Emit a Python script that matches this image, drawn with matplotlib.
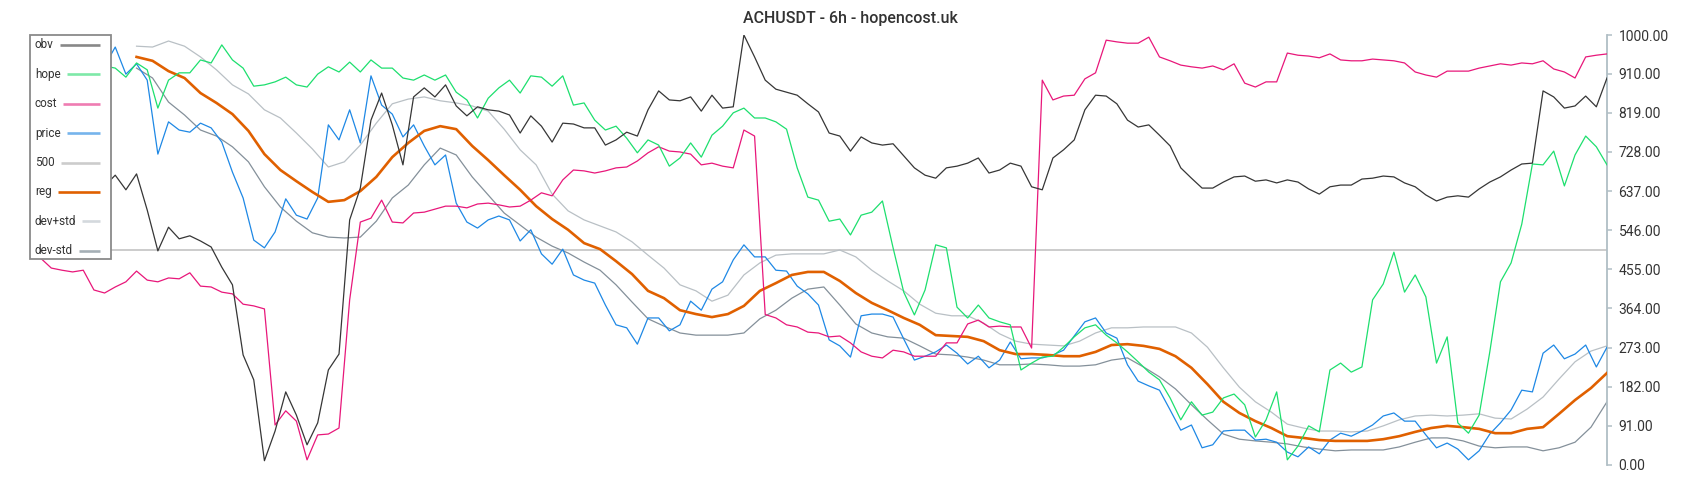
import numpy as np
import matplotlib
matplotlib.use("Agg")
import matplotlib.pyplot as plt
from matplotlib.lines import Line2D
from matplotlib.patches import Rectangle
from matplotlib.transforms import Affine2D

plt.rcParams['font.family'] = ['Roboto', 'DejaVu Sans']

title = "ACHUSDT - 6h - hopencost.uk"
step_fast = 2
step_slow = 3
slow_start = 20

obv = [651, 667, 635, 656, 686, 644, 663, 649, 674, 640,
       677, 593, 498, 553, 526, 533, 521, 507, 460, 419,
       256, 198, 10, 79, 170, 116, 47, 98, 221, 258,
       570, 644, 802, 865, 791, 698, 856, 877, 856, 884,
       835, 812, 833, 826, 823, 814, 772, 812, 788, 751,
       795, 793, 784, 784, 744, 756, 774, 765, 826, 870,
       849, 847, 856, 823, 860, 830, 833, 1000, 949, 895,
       874, 867, 860, 840, 821, 772, 765, 730, 763, 749,
       744, 747, 719, 691, 674, 667, 691, 695, 702, 714,
       679, 686, 702, 695, 647, 640, 714, 733, 756, 826,
       860, 858, 840, 802, 786, 791, 767, 742, 691, 667,
       644, 644, 658, 670, 672, 660, 663, 656, 663, 658,
       642, 630, 647, 651, 651, 665, 667, 672, 670, 656,
       647, 628, 614, 623, 626, 623, 642, 658, 670, 686,
       700, 702, 870, 856, 830, 835, 858, 833, 900]

hope = [914, 923, 909, 919, 928, 914, 919, 928, 923, 902,
        935, 919, 830, 895, 912, 912, 942, 935, 977, 942,
        923, 881, 884, 891, 902, 884, 879, 909, 926, 914,
        937, 914, 942, 923, 923, 900, 895, 907, 895, 907,
        867, 849, 807, 853, 877, 895, 865, 905, 902, 881,
        905, 837, 842, 802, 779, 788, 760, 726, 756, 744,
        695, 714, 749, 716, 767, 788, 819, 830, 807, 807,
        798, 781, 691, 623, 616, 567, 572, 535, 581, 588,
        614, 505, 402, 349, 407, 512, 505, 367, 342, 372,
        342, 333, 326, 221, 237, 251, 253, 274, 298, 319,
        326, 302, 284, 263, 240, 216, 198, 156, 105, 147,
        116, 123, 156, 165, 140, 65, 105, 170, 12, 44,
        91, 77, 221, 237, 216, 228, 384, 421, 495, 402,
        442, 391, 237, 298, 98, 74, 116, 263, 426, 470,
        560, 700, 698, 730, 649, 721, 765, 740, 698]

cost = [486, 481, 458, 453, 449, 453, 407, 400, 414, 426,
        451, 430, 426, 435, 433, 447, 416, 414, 402, 398,
        374, 370, 363, 93, 126, 102, 12, 70, 72, 86,
        384, 565, 574, 616, 565, 563, 586, 588, 595, 602,
        602, 598, 607, 609, 605, 600, 602, 616, 633, 626,
        663, 686, 684, 679, 684, 691, 693, 707, 726, 740,
        730, 728, 723, 698, 702, 695, 691, 779, 765, 350,
        342, 326, 321, 309, 307, 298, 300, 284, 263, 253,
        249, 267, 263, 253, 253, 253, 284, 284, 328, 337,
        321, 323, 321, 321, 272, 895, 849, 858, 860, 898,
        912, 988, 984, 981, 981, 995, 949, 940, 930, 926,
        923, 928, 919, 933, 888, 879, 891, 891, 958, 953,
        951, 947, 956, 942, 940, 940, 944, 942, 940, 935,
        914, 907, 902, 916, 916, 916, 923, 928, 933, 930,
        935, 933, 940, 921, 914, 900, 949, 953, 956]

price = [937, 923, 947, 928, 942, 919, 937, 928, 972, 909,
         933, 895, 723, 798, 779, 774, 795, 784, 751, 681,
         621, 523, 505, 542, 619, 581, 572, 621, 791, 756,
         826, 749, 905, 837, 816, 763, 791, 742, 698, 721,
         609, 565, 551, 570, 579, 570, 521, 547, 491, 467,
         502, 442, 430, 423, 372, 326, 319, 281, 342, 342,
         312, 326, 381, 360, 409, 426, 477, 512, 484, 484,
         453, 451, 416, 398, 372, 291, 277, 251, 347, 351,
         351, 344, 293, 244, 253, 263, 279, 260, 235, 253,
         226, 244, 286, 247, 249, 249, 256, 267, 300, 333,
         342, 307, 295, 233, 195, 184, 174, 128, 81, 93,
         40, 47, 79, 81, 81, 58, 60, 53, 30, 19,
         42, 26, 58, 74, 67, 79, 93, 114, 121, 102,
         102, 70, 40, 51, 37, 12, 33, 72, 98, 128,
         174, 170, 260, 279, 247, 258, 279, 228, 274]

reg = [949, 940, 916, 900, 865, 842, 816, 777, 723, 686,
       660, 635, 612, 616, 637, 670, 716, 749, 777, 788,
       781, 742, 709, 674, 640, 602, 572, 547, 516, 502,
       474, 444, 405, 388, 360, 351, 344, 351, 370, 405,
       423, 442, 449, 449, 428, 400, 377, 360, 342, 326,
       302, 300, 298, 288, 267, 258, 258, 256, 253, 253,
       263, 279, 281, 277, 270, 253, 226, 188, 147, 121,
       102, 86, 67, 63, 58, 56, 56, 56, 60, 67,
       77, 86, 91, 88, 84, 74, 74, 84, 88, 119,
       151, 179, 214]

dev_plus_std = [974, 972, 986, 974, 949, 919, 884, 863, 826, 807,
                772, 735, 693, 705, 744, 795, 840, 851, 856, 847,
                842, 835, 823, 781, 733, 698, 630, 591, 570, 556,
                542, 519, 488, 458, 419, 405, 381, 395, 442, 470,
                488, 491, 491, 491, 500, 484, 453, 428, 405, 374,
                353, 347, 347, 330, 305, 288, 281, 279, 277, 288,
                307, 319, 319, 321, 321, 321, 307, 274, 226, 181,
                147, 123, 95, 86, 79, 79, 77, 79, 91, 105,
                114, 116, 114, 116, 119, 109, 107, 130, 158, 200,
                240, 265, 277]

dev_minus_std = [923, 900, 844, 814, 779, 765, 740, 705, 647, 600,
                 567, 540, 530, 528, 530, 567, 621, 651, 698, 737,
                 721, 670, 628, 586, 558, 530, 509, 493, 472, 453,
                 419, 379, 340, 323, 307, 302, 302, 302, 307, 340,
                 360, 388, 409, 414, 372, 328, 307, 298, 295, 277,
                 258, 256, 251, 244, 233, 233, 235, 233, 230, 230,
                 233, 244, 249, 228, 205, 177, 140, 105, 72, 60,
                 56, 53, 49, 42, 37, 33, 35, 35, 35, 42,
                 53, 63, 63, 56, 44, 40, 42, 42, 33, 40,
                 53, 88, 147]

level_500 = 500
y_ticks = [0, 91, 182, 273, 364, 455, 546, 637, 728, 819, 910, 1000]
legend_labels = ["obv", "hope", "cost", "price", "500", "reg", "dev+std", "dev-std"]

x_fast = np.arange(len(obv)) * step_fast
x_slow = slow_start + np.arange(len(reg)) * step_slow

W, H = 1700, 500
fig = plt.figure(figsize=(W / 100, H / 100), dpi=100)
fig.patch.set_facecolor('white')
ax = fig.add_axes([30 / W, 35 / H, 1577 / W, 430 / H])

C_OBV = '#363636'
C_HOPE = '#1ddf6e'
C_COST = '#e8177a'
C_PRICE = '#1e88e5'
C_500 = '#c8c8c8'
C_REG = '#e06000'
C_DPS = '#b9c0c5'
C_DMS = '#84909a'

ax.axhline(level_500, color=C_500, lw=1.3, zorder=1)
ax.plot(x_slow, dev_plus_std, color=C_DPS, lw=0.9, zorder=2)
ax.plot(x_slow, dev_minus_std, color=C_DMS, lw=0.9, zorder=2)
ax.plot(x_fast, price, color=C_PRICE, lw=0.9, zorder=3)
ax.plot(x_slow, reg, color=C_REG, lw=1.9, zorder=4)
ax.plot(x_fast, cost, color=C_COST, lw=0.9, zorder=5)
ax.plot(x_fast, hope, color=C_HOPE, lw=0.9, zorder=5)
ax.plot(x_fast, obv, color=C_OBV, lw=0.9, zorder=6)

ax.set_xlim(0, x_fast[-1])
ax.set_ylim(0, 1000)
for s in ['left', 'top', 'bottom']:
    ax.spines[s].set_visible(False)
ax.spines['right'].set_color('#b0bec5')
ax.spines['right'].set_linewidth(1.3)
ax.set_xticks([])
ax.yaxis.tick_right()
ax.set_yticks(y_ticks)
ax.set_yticklabels([f"{v:.2f}" for v in y_ticks])
ax.tick_params(axis='y', direction='out', length=3.8, width=1.1, color='#b0bec5',
               pad=4.5, labelsize=10, labelcolor='#333333')
ax.patch.set_alpha(0)

fig.text(0.5, 1 - 19 / H, title, ha='center', va='center', fontsize=11.5,
         fontweight='medium', color='#333333')

# legend box in pixel coordinates (top-down)
trans = Affine2D().scale(1 / W, -1 / H).translate(0, 1) + fig.transFigure
fig.add_artist(Rectangle((30, 34.5), 81, 224.5, transform=trans, facecolor='white',
                         edgecolor='#8a8a8a', lw=1.3, zorder=10))
legend_colors = ['#888888', '#7ee9a8', '#ef7cb2', '#76b4ec', '#cccccc', C_REG, '#d4d9dd', '#a5afb5']
row_y = [45 + i * 29.4 for i in range(len(legend_labels))]
texts = []
for lab, yy in zip(legend_labels, row_y):
    t = fig.text(35, yy, lab, transform=trans, ha='left', va='center', fontsize=8.5,
                 color='#333333', zorder=12)
    texts.append(t)
fig.canvas.draw()
for t, yy, c in zip(texts, row_y, legend_colors):
    bb = t.get_window_extent()
    fig.add_artist(Line2D([bb.x1 + 6, 100], [yy, yy], transform=trans, color=c,
                          lw=1.9, zorder=11, solid_capstyle='butt'))

fig.savefig('out.png', dpi=100, facecolor='white')
